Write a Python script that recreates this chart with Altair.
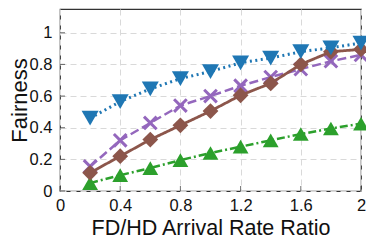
import altair as alt
import pandas as pd

x_vals = [0.2, 0.4, 0.6, 0.8, 1.0, 1.2, 1.4, 1.6, 1.8, 2.0]
blue = [0.46, 0.565, 0.645, 0.71, 0.755, 0.81, 0.84, 0.88, 0.905, 0.935]
purple = [0.155, 0.32, 0.43, 0.54, 0.60, 0.665, 0.72, 0.77, 0.82, 0.86]
brown = [0.115, 0.22, 0.325, 0.415, 0.505, 0.605, 0.68, 0.80, 0.88, 0.895]
green = [0.05, 0.10, 0.145, 0.195, 0.24, 0.28, 0.32, 0.36, 0.395, 0.425]

x_ticks = [0, 0.4, 0.8, 1.2, 1.6, 2]
y_ticks = [0, 0.2, 0.4, 0.6, 0.8, 1]

FONT = "Liberation Sans"
W, H = 301, 182

xs = alt.Scale(domain=[0, 2], nice=False)
ys = alt.Scale(domain=[0, 1.15], nice=False)

common = dict(grid=True, gridDash=[6, 4], gridColor="#d9d9d9", tickSize=0, domain=False,
              labelFontSize=16.5, labelFont=FONT, titleFont=FONT,
              labelColor="#111", titleColor="#111", titleFontWeight="normal",
              labelFlush=False, labelOverlap=False, format="~g")

xaxis = alt.Axis(values=x_ticks, title="FD/HD Arrival Rate Ratio", titleFontSize=21.5,
                 labelPadding=6, titleY=43, titleBaseline="alphabetic", **common)
yaxis = alt.Axis(values=y_ticks, title="Fairness", titleFontSize=22,
                 labelPadding=8, titleX=-34, titleBaseline="alphabetic", **common)

def series(vals, color, dash, shape, size, filled=True, sw=2.5):
    df = pd.DataFrame({"x": x_vals, "y": vals})
    enc = dict(x=alt.X("x:Q", scale=xs, axis=xaxis), y=alt.Y("y:Q", scale=ys, axis=yaxis))
    line = alt.Chart(df).mark_line(color=color, strokeWidth=sw, strokeDash=dash).encode(**enc)
    pt = alt.Chart(df).mark_point(shape=shape, size=size, filled=filled, color=color,
                                  opacity=1, strokeWidth=3).encode(**enc)
    return [line, pt]

layers = []
layers += series(green, "#2ca02c", [8, 3, 2, 3], "triangle-up", 250)
layers += series(purple, "#9467bd", [9, 4], "M-1,-1L1,1M-1,1L1,-1", 160, filled=False)
layers += series(brown, "#8c564b", [1, 0], "diamond", 250, sw=2.8)
layers += series(blue, "#1f77b4", [2, 3.5], "triangle-down", 290, sw=3)

ytick_df = pd.DataFrame({"y": y_ticks})
xtick_df = pd.DataFrame({"x": x_ticks})
ytk = alt.Chart(ytick_df).mark_tick(orient="horizontal", size=5, color="#333", thickness=1, xOffset=2.5).encode(
    y=alt.Y("y:Q", scale=ys, axis=yaxis), x=alt.value(0))
xtk = alt.Chart(xtick_df).mark_tick(orient="vertical", size=5, color="#333", thickness=1, yOffset=-2.5).encode(
    x=alt.X("x:Q", scale=xs, axis=xaxis), y=alt.value(H))

chart = alt.layer(*layers, ytk, xtk).properties(
    width=W, height=H,
    autosize=alt.AutoSizeParams(type="none"),
    padding={"left": 52, "top": 1, "right": 5, "bottom": 48},
).configure_view(stroke="#333", strokeWidth=1.2)

chart.save("out.html", embed_options={"renderer": "svg", "actions": False})
